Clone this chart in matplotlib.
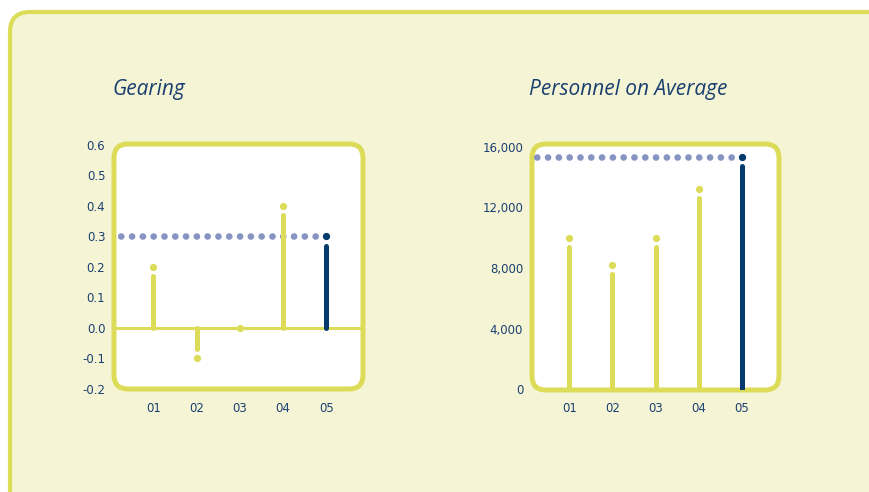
import matplotlib
matplotlib.use("Agg")
import matplotlib.pyplot as plt
from matplotlib.patches import FancyBboxPatch
from matplotlib.transforms import IdentityTransform

# five business years, latest year highlighted
years = ["01", "02", "03", "04", "05"]
gearing = [0.2, -0.1, 0.0, 0.4, 0.3]
personnel = [10000, 8200, 10000, 13200, 15300]
gearing_ticks = [-0.2, -0.1, 0.0, 0.1, 0.2, 0.3, 0.4, 0.5, 0.6]
personnel_ticks = [0, 4000, 8000, 12000, 16000]

YELLOW = "#dcdc58"
PANEL = "#f5f5d6"
DARK = "#053a6e"
DOTS = "#8794c2"
TEXT = "#1a3f6f"
W, H = 869, 492

fig = plt.figure(figsize=(W / 100, H / 100), dpi=100)
fig.patch.set_facecolor("white")


def rounded(x0, y0, x1, y1, r, fc, ec, lw, z):
    # box given in pixels from the top-left corner
    p = FancyBboxPatch((x0, H - y1), x1 - x0, y1 - y0,
                       boxstyle=f"round,pad=0,rounding_size={r}",
                       transform=IdentityTransform(), fc=fc, ec=ec, lw=lw, zorder=z)
    fig.add_artist(p)


def make_axes(x0, y0, x1, y1):
    rounded(x0, y0, x1, y1, 14, "white", YELLOW, 3.6, -1)
    ax = fig.add_axes([x0 / W, (H - y1) / H, (x1 - x0) / W, (y1 - y0) / H])
    ax.set_facecolor("none")
    for s in ax.spines.values():
        s.set_visible(False)
    ax.tick_params(length=0, colors=TEXT, labelsize=8.5)
    ax.tick_params(axis="y", pad=6.3)
    ax.tick_params(axis="x", pad=9)
    return ax


def lollipops(ax, values, gap):
    xs = range(1, len(values) + 1)
    for i, (x, v) in enumerate(zip(xs, values)):
        c = DARK if i == len(values) - 1 else YELLOW
        if abs(v) > gap:
            end = v - gap if v > 0 else v + gap
            ax.plot([x, x], [0, end], color=c, lw=3.6, solid_capstyle="round", zorder=3)
    # latest level carried back across the box as a dotted line
    last = values[-1]
    ax.plot([len(values), 0.2], [last, last], color=DOTS, lw=4.8,
            linestyle=(0, (0.01, 1.61)), dash_capstyle="round", zorder=2)
    for i, (x, v) in enumerate(zip(xs, values)):
        c = DARK if i == len(values) - 1 else YELLOW
        ax.plot(x, v, "o", ms=5.2, color=c, mec="none", zorder=4, clip_on=False)
    ax.set_xticks(list(xs))
    ax.set_xticklabels(years)


# outer panel
rounded(10, 12, 900, 520, 20, PANEL, YELLOW, 3, -2)

# Gearing
ax1 = make_axes(114, 144, 363, 389)
ax1.axhline(0, color=YELLOW, lw=2.2, zorder=1)
lollipops(ax1, gearing, 0.03)
ax1.set_xlim(0.09, 5.85)
ax1.set_ylim(-0.2, 0.603)
ax1.set_yticks(gearing_ticks)
ax1.set_yticklabels([f"{t:.1f}" for t in gearing_ticks])

# Personnel on Average
ax2 = make_axes(532, 144, 779, 390)
lollipops(ax2, personnel, 590)
ax2.set_xlim(0.135, 5.865)
ax2.set_ylim(-40, 16180)
ax2.set_yticks(personnel_ticks)
ax2.set_yticklabels([f"{t:,}" for t in personnel_ticks])

fig.text(112 / W, 1 - 90 / H, "Gearing", color=TEXT, fontsize=15, style="italic",
         family="Open Sans", va="center", ha="left")
fig.text(529 / W, 1 - 90 / H, "Personnel on Average", color=TEXT, fontsize=15,
         style="italic", family="Open Sans", va="center", ha="left")

fig.savefig("out.png", dpi=100, facecolor=fig.get_facecolor())
